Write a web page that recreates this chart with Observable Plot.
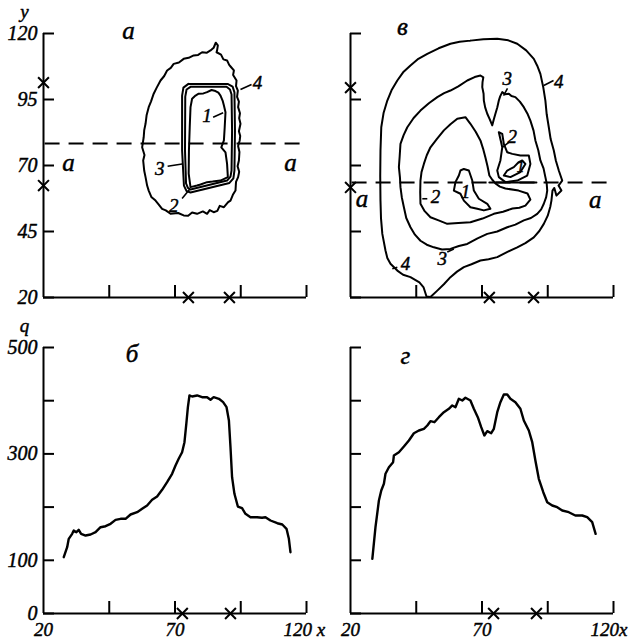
<!DOCTYPE html>
<html><head><meta charset="utf-8">
<script src="https://cdn.jsdelivr.net/npm/d3@7"></script>
<script src="https://cdn.jsdelivr.net/npm/@observablehq/plot@0.6"></script>
<style>
html,body{margin:0;padding:0;background:#fff;}
#fig{position:relative;width:631px;height:642px;overflow:hidden;background:#fff;}
#fig svg{position:absolute;overflow:visible;}
</style></head><body><div id="fig"></div>
<script>
// ---------- axes ----------
const xTicks = [20, 45, 70, 95, 120];
const yTicks = [20, 45, 70, 95, 120];
const yTickLabels = [20, 45, 70, 95, 120];
const qTicks = [0, 100, 200, 300, 400, 500];
const qTickLabels = [0, 100, 300, 500];
const xTickLabels = ["20", "70"];

// ---------- panel а : isolines ----------
const aLevel4 = [[86.3,115.5],[86.0,113.6],[85.8,112.9],[87.5,112.0],[88.4,110.2],[89.8,109.8],[90.6,108.1],[91.2,107.4],[92.4,106.0],[92.1,104.3],[93.4,102.2],[93.2,100.1],[93.9,98.4],[93.6,96.0],[94.3,94.2],[94.0,92.1],[94.7,89.8],[94.4,87.9],[94.9,85.8],[94.3,83.0],[94.8,81.2],[94.6,79.5],[94.0,77.4],[94.5,75.1],[94.3,71.9],[93.8,69.7],[94.4,67.6],[94.0,65.6],[93.2,63.8],[93.0,60.5],[92.0,58.9],[91.1,56.7],[90.2,56.1],[88.6,54.2],[87.0,54.7],[86.1,52.8],[84.7,52.3],[83.2,53.1],[82.2,51.7],[80.6,52.6],[78.4,51.7],[76.5,52.2],[75.0,51.0],[73.3,51.1],[71.2,52.0],[68.3,51.7],[66.5,53.0],[65.1,53.6],[63.6,55.5],[62.6,56.7],[61.0,58.1],[60.0,60.5],[59.4,62.4],[58.8,65.6],[58.3,68.0],[57.9,71.9],[58.4,74.0],[57.5,76.9],[58.1,80.7],[58.3,83.4],[58.8,85.8],[59.2,89.0],[60.0,92.1],[60.9,94.3],[61.9,97.2],[63.0,99.4],[64.5,102.2],[65.9,103.9],[67.0,106.0],[68.4,107.0],[69.5,108.5],[71.5,109.0],[73.3,110.4],[75.2,110.8],[77.1,111.7],[78.8,111.9],[80.3,112.9],[82.0,112.7],[83.5,113.6],[84.7,114.6],[85.5,116.5]];
const aLevel3 = [[75.1,100.9],[90.0,100.9],[91.9,99.9],[92.6,97.7],[92.8,83.3],[92.6,68.1],[92.2,65.1],[90.7,63.4],[75.9,59.8],[74.4,60.3],[73.4,62.4],[72.7,75.7],[72.7,96.5],[73.2,99.5]];
const aLevel2 = [[75.9,99.8],[89.6,99.8],[90.9,98.8],[91.5,96.9],[91.7,83.3],[91.5,68.1],[91.1,65.8],[89.8,64.3],[75.9,60.9],[74.9,61.5],[74.2,63.2],[73.8,75.7],[73.9,96.1],[74.4,98.8]];
const aLevel1 = [[82.2,97.8],[83.9,98.6],[85.4,98.2],[86.5,97.6],[87.3,96.5],[88.1,94.6],[88.6,92.7],[89.2,90.2],[88.9,84.5],[88.6,79.5],[87.6,76.9],[89.2,75.0],[89.8,70.6],[90.1,65.6],[87.3,64.3],[84.3,63.9],[82.2,63.7],[79.7,62.8],[78.4,62.4],[75.9,61.8],[75.2,66.9],[75.3,75.7],[75.6,84.5],[75.9,92.1],[76.5,95.3],[77.8,96.5],[79.0,97.2],[80.8,97.3]];
const aSection = 78.3;
const aCrossX = [75.1, 90.7];
const aCrossY = [101.4, 62.4];

// ---------- panel в : isolines ----------
const vLevel4 = [[65.6,117.3],[70.5,117.8],[75.8,118.0],[80.0,117.4],[83.4,116.1],[86.8,113.6],[89.7,110.4],[91.0,107.8],[92.2,104.7],[93.3,99.6],[94.1,94.6],[94.6,89.4],[95.4,84.5],[96.1,80.0],[97.3,75.7],[98.1,71.8],[99.2,68.1],[100.5,64.3],[99.1,62.4],[100.2,60.5],[98.3,58.6],[97.5,61.5],[96.8,60.5],[96.4,56.7],[96.0,54.5],[95.0,51.0],[93.5,47.9],[91.8,45.2],[89.7,42.8],[86.5,40.6],[83.4,39.0],[79.5,37.2],[75.8,35.3],[72.5,34.5],[69.4,34.0],[66.0,32.6],[63.1,31.5],[60.5,29.8],[58.0,27.7],[55.5,25.0],[53.0,22.6],[50.4,20.2],[48.9,20.4],[47.8,23.8],[46.2,25.7],[42.8,27.7],[40.0,28.6],[37.8,30.2],[35.2,32.8],[34.0,35.0],[33.3,37.8],[32.1,44.1],[31.6,50.0],[31.4,56.7],[31.3,66.0],[31.4,75.7],[31.7,84.5],[32.6,90.0],[34.0,94.6],[35.6,98.5],[37.8,102.2],[40.0,105.3],[42.8,107.9],[45.8,110.4],[49.2,112.3],[53.5,114.4],[58.0,116.1],[61.5,116.9]];
const vLevel3 = [[69.4,104.1],[67.2,103.5],[64.4,102.2],[61.0,100.0],[58.0,98.4],[55.6,97.4],[53.0,95.9],[49.8,93.6],[46.6,90.8],[44.0,88.0],[41.6,84.5],[40.2,81.5],[39.0,78.2],[38.7,73.5],[38.4,69.4],[38.8,65.5],[39.0,61.8],[39.5,58.0],[40.3,54.2],[41.2,50.1],[42.8,46.6],[44.5,43.8],[46.6,41.5],[49.0,40.0],[51.7,39.0],[54.8,38.2],[58.0,38.4],[61.2,39.5],[64.4,40.3],[68.3,42.4],[72.0,44.1],[75.8,45.0],[79.6,46.6],[82.7,47.6],[85.9,49.2],[88.6,50.1],[91.0,51.7],[92.5,53.4],[93.5,55.5],[94.4,58.0],[94.8,60.5],[94.6,63.2],[94.1,65.6],[93.4,68.9],[92.2,71.9],[91.4,75.8],[90.3,79.5],[89.6,83.2],[88.4,87.0],[87.4,89.4],[85.9,92.1],[84.4,94.2],[82.7,95.9],[81.2,96.3],[80.2,97.2],[78.8,97.0],[77.7,97.8],[76.9,96.2],[76.4,94.6],[75.8,92.0],[75.1,89.6],[74.5,87.5],[73.9,85.2],[73.0,87.4],[72.0,89.6],[71.2,92.0],[70.7,94.6],[70.6,97.2],[70.1,99.7],[70.2,101.6],[70.5,103.4]];
const vLevel2 = [[63.7,88.3],[60.6,87.7],[58.0,85.6],[55.5,83.3],[52.8,80.0],[50.4,76.9],[49.0,73.9],[47.9,70.6],[47.0,67.5],[46.6,64.3],[46.5,60.0],[46.6,55.5],[48.2,52.7],[50.4,50.4],[53.5,49.2],[56.8,47.9],[61.0,48.2],[65.6,48.5],[70.2,49.9],[74.5,51.7],[78.0,52.5],[81.6,53.7],[84.2,54.0],[86.5,54.8],[88.4,57.1],[87.3,59.4],[83.9,60.5],[78.9,61.3],[76.8,62.0],[75.1,63.2],[73.9,64.6],[72.8,66.2],[72.1,69.7],[71.3,73.0],[70.4,76.4],[69.4,79.5],[67.6,82.8],[65.6,85.8]];
const vLevel2b = [[76.4,82.6],[77.7,76.9],[77.0,71.9],[75.8,68.1],[76.4,65.6],[78.9,63.7],[83.4,64.3],[87.2,66.2],[88.4,70.6],[87.8,73.8],[84.6,73.8],[81.5,74.4],[79.6,75.0],[78.3,78.2],[77.7,82.0]];
const vLevel1a = [[63.1,68.7],[65.0,68.1],[66.3,64.3],[66.9,60.5],[68.8,57.4],[72.0,55.5],[73.2,53.6],[70.7,53.0],[68.2,53.6],[65.6,54.2],[63.1,56.7],[61.8,59.3],[59.3,60.5],[59.9,63.7],[61.2,66.2],[61.8,68.1]];
const vLevel1b = [[85.3,71.9],[86.5,70.6],[84.6,67.5],[80.8,65.6],[78.3,66.2],[79.6,68.1],[82.1,69.4],[84.0,71.3]];
const vSectionPiece = [[72.8,63.6],[90.7,63.6]];
const vSection = 63.6;
const vCrossX = [72.8, 89.6];
const vCrossY = [99.5, 61.7];

// ---------- panel б : profile along a-a (left) ----------
const bX = [27.7,29.0,29.6,30.9,31.5,32.5,33.4,34.3,36.0,37.9,39.8,41.7,43.6,45.5,47.4,49.3,51.2,53.1,55.6,57.5,59.4,61.3,63.2,65.1,67.0,68.9,70.2,71.4,72.7,73.6,74.3,74.9,75.5,76.5,78.4,80.3,82.2,83.5,84.7,86.7,88.3,89.6,90.5,91.1,91.7,92.6,93.9,95.5,96.8,98.7,101.2,103.1,104.4,106.3,108.9,110.8,112.4,113.3,113.9];
const bQ = [105.8,124.6,140.4,149.8,156.0,152.8,157.3,149.8,146.6,148.5,152.8,162.2,164.1,168.6,176.1,178.0,178.0,186.1,190.4,196.8,203.0,213.7,219.9,232.5,246.8,262.6,278.2,290.8,303.2,322.0,356.6,387.8,409.8,407.9,409.8,406.6,406.6,401.7,406.6,403.6,397.2,387.8,362.8,312.6,256.2,225.0,201.1,197.9,187.4,181.0,181.0,179.9,181.0,174.8,169.7,167.3,159.2,140.4,115.2];
const bCrossX = [72.8, 91.1];

// ---------- panel г : profile along a-a (right) ----------
const gX = [28.3,29.5,30.8,31.7,32.7,33.3,34.6,36.2,36.5,38.4,40.3,42.2,44.1,46.0,47.9,49.2,50.4,51.9,53.6,55.5,57.4,58.7,59.9,61.2,62.5,63.7,65.6,66.9,68.4,69.7,70.9,72.0,73.5,74.5,75.8,77.0,78.3,79.6,80.8,82.7,84.6,85.9,87.8,89.1,90.3,91.6,93.3,94.8,96.7,98.6,100.5,103.0,105.5,108.1,110.0,111.9,113.2];
const gQ = [102.8,162.2,212.4,231.2,243.8,262.6,275.0,284.4,297.0,303.2,313.9,325.2,338.9,344.0,347.2,353.4,361.5,359.6,369.0,378.4,384.8,391.0,387.8,403.6,400.4,405.5,400.4,384.8,369.0,350.2,334.6,342.7,338.9,347.2,378.4,397.2,411.7,411.7,403.6,397.2,384.8,362.8,344.0,322.0,287.6,253.2,228.0,209.2,203.0,199.8,193.6,190.4,184.2,184.2,181.0,171.6,149.8];
const gCrossX = [74.4, 90.7];

// ---------- annotations ----------
const aNotes = [
  {t: "а", x: 52.3, y: 121.1, big: true},
  {t: "а", x: 29.5, y: 71.1, big: true},
  {t: "а", x: 113.9, y: 71.1, big: true},
  {t: "4", x: 101.4, y: 101.4},
  {t: "1", x: 82.2, y: 88.9},
  {t: "3", x: 64.2, y: 68.7},
  {t: "2", x: 69.5, y: 54.8}
];
const aLeaders = [
  [[94.9,98.8],[99.1,100.7]],
  [[84.5,88.3],[88.3,90.0]],
  [[67.2,69.7],[72.7,70.6]],
  [[72.7,57.5],[75.5,60.9]]
];
const vNotes = [
  {t: "в", x: 39.7, y: 122.4, big: true},
  {t: "а", x: 24.4, y: 57.4, big: true},
  {t: "а", x: 113.1, y: 57.1, big: true},
  {t: "4", x: 99.2, y: 101.6},
  {t: "3", x: 79.6, y: 102.8},
  {t: "2", x: 81.5, y: 80.7},
  {t: "1", x: 84.6, y: 69.4, small: true},
  {t: "1", x: 63.7, y: 59.9},
  {t: "2", x: 52.3, y: 58.0},
  {t: "3", x: 54.9, y: 34.7},
  {t: "4", x: 40.9, y: 32.8}
];
const vLeaders = [
  [[93.5,100.3],[97.2,102.2]],
  [[79.7,99.2],[78.2,96.5]],
  [[80.2,78.8],[77.7,76.9]],
  [[49.2,57.4],[47.3,57.4]],
  [[56.8,37.2],[59.3,38.4]],
  [[37.8,31.5],[35.9,30.9]]
];
const bNotes = [{t: "б", x: 53.7, y: 488.2, big: true}];
const gNotes = [{t: "г", x: 40.9, y: 483.1, big: true}];

// ---------- drawing ----------
const FONT = "'Liberation Serif', 'DejaVu Serif', serif";
const W = 315;
const textStyle = {fontStyle: "italic", fontFamily: FONT, fill: "black", stroke: "black", strokeWidth: 0.45};

function closed(pts, id) {
  return pts.concat([pts[0]]).map(([x, y]) => ({x, y, id}));
}
function open(pts, id) {
  return pts.map(([x, y]) => ({x, y, id}));
}

function panel({left, top, height, mTop, mBottom, yDomain, yTickValues, yLabels, yLetter,
                showX, paths, lineWidth, crossX, crossY, section, notes, leaders, xEnd}) {
  const mLeft = 43, mRight = 9;
  const frameW = W - mLeft - mRight;
  const frameH = height - mTop - mBottom;
  const y0 = yDomain[0];
  const marks = [
    Plot.ruleY([y0], {x1: 20, x2: 120, strokeWidth: 2}),
    Plot.ruleX([20], {y1: yDomain[0], y2: yDomain[1], strokeWidth: 2}),
    Plot.tickX(xTicks.slice(1), {x: d => d, insetTop: frameH - 12, strokeWidth: 2}),
    Plot.tickY(yTickValues, {y: d => d, insetRight: frameW - 11, strokeWidth: 2})
  ];
  if (section !== undefined) {
    marks.push(Plot.ruleY([section], {x1: 20.6, x2: 120.8, strokeWidth: 2, strokeDasharray: "15,9"}));
  }
  marks.push(Plot.line(paths, {x: "x", y: "y", z: "id", stroke: "black", strokeWidth: lineWidth,
    strokeLinejoin: "round", strokeLinecap: "round"}));
  if (leaders) {
    marks.push(Plot.link(leaders, {x1: d => d[0][0], y1: d => d[0][1], x2: d => d[1][0], y2: d => d[1][1], strokeWidth: 1.6}));
  }
  marks.push(Plot.dot(crossX, {x: d => d, y: y0, symbol: "times", r: 5, stroke: "black", strokeWidth: 2}));
  if (crossY) marks.push(Plot.dot(crossY, {x: 20, y: d => d, symbol: "times", r: 5, stroke: "black", strokeWidth: 2}));
  if (yLabels) {
    marks.push(Plot.text(yLabels, {x: 20, y: d => d, text: d => String(d), textAnchor: "end", dx: -6,
      fontSize: 20, ...textStyle}));
  }
  if (yLetter) {
    marks.push(Plot.text([yLetter], {x: 20, y: yDomain[1], text: d => d, dx: -19, dy: -21.5,
      fontSize: 19, ...textStyle}));
  }
  if (showX) {
    marks.push(Plot.text(xTickLabels, {x: d => +d, y: y0, text: d => d, dy: 16,
      fontSize: 19, ...textStyle}));
    marks.push(Plot.text([xEnd], {x: 120, y: y0, text: d => d, dy: 16, dx: -23, textAnchor: "start",
      fontSize: 19, ...textStyle}));
  }
  marks.push(Plot.text(notes, {x: "x", y: "y", text: "t",
    fontSize: d => d.big ? 25 : d.small ? 16 : 19, ...textStyle}));

  const svg = Plot.plot({
    width: W, height,
    marginLeft: mLeft, marginRight: mRight, marginTop: mTop, marginBottom: mBottom,
    x: {domain: [20, 120], axis: null},
    y: {domain: yDomain, axis: null},
    style: {background: "transparent", fontFamily: FONT, color: "black", overflow: "visible"},
    marks
  });
  svg.style.left = left + "px";
  svg.style.top = top + "px";
  document.getElementById("fig").appendChild(svg);
}

const aPaths = [].concat(closed(aLevel4, "a4"), closed(aLevel3, "a3"), closed(aLevel2, "a2"), closed(aLevel1, "a1"));
const vPaths = [].concat(closed(vLevel4, "v4"), closed(vLevel3, "v3"), closed(vLevel2, "v2"),
  closed(vLevel2b, "v2b"), closed(vLevel1a, "v1a"), closed(vLevel1b, "v1b"), open(vSectionPiece, "vs"));
const bPath = bX.map((x, i) => ({x, y: bQ[i], id: "b"}));
const gPath = gX.map((x, i) => ({x, y: gQ[i], id: "g"}));

panel({left: 0, top: 0, height: 320, mTop: 33, mBottom: 23, yDomain: [20, 120], yTickValues: yTicks,
  yLabels: yTickLabels, yLetter: "y", showX: false, paths: aPaths, lineWidth: 2, crossX: aCrossX, crossY: aCrossY,
  section: aSection, notes: aNotes, leaders: aLeaders});
panel({left: 307, top: 0, height: 320, mTop: 33, mBottom: 23, yDomain: [20, 120], yTickValues: yTicks,
  yLabels: null, showX: false, paths: vPaths, lineWidth: 2, crossX: vCrossX, crossY: vCrossY,
  section: vSection, notes: vNotes, leaders: vLeaders});
panel({left: 0, top: 320, height: 322, mTop: 27, mBottom: 29, yDomain: [0, 500], yTickValues: qTicks,
  yLabels: qTickLabels, yLetter: "q", showX: true, paths: bPath, lineWidth: 2.4, crossX: bCrossX, crossY: null,
  notes: bNotes, xEnd: "120 x"});
panel({left: 307, top: 320, height: 322, mTop: 27, mBottom: 29, yDomain: [0, 500], yTickValues: qTicks,
  yLabels: null, showX: true, paths: gPath, lineWidth: 2.4, crossX: gCrossX, crossY: null,
  notes: gNotes, xEnd: "120x"});
</script></body></html>
